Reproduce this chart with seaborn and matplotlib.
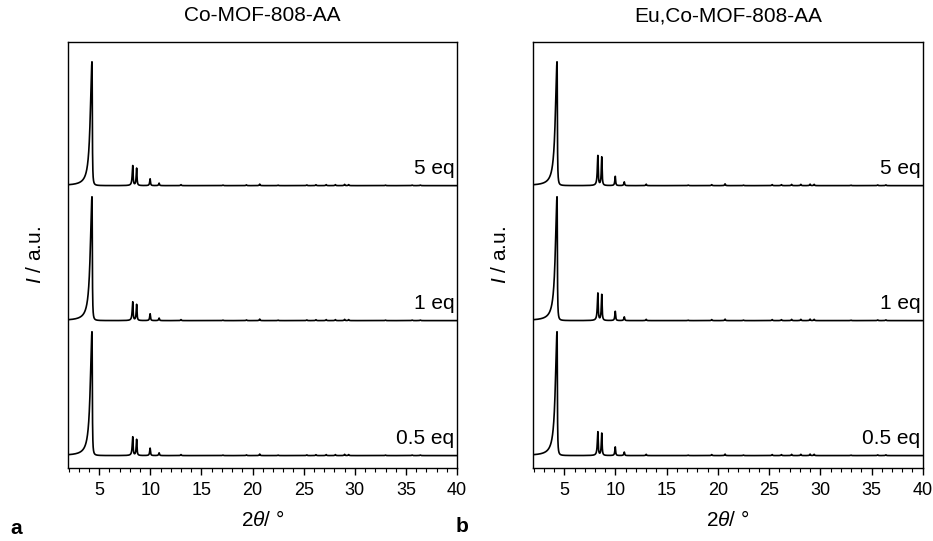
import numpy as np
import pandas as pd
import matplotlib
matplotlib.use("Agg")
import matplotlib.pyplot as plt
import seaborn as sns
from matplotlib.ticker import MultipleLocator

# ---------------- data ----------------
panel_titles = ["Co-MOF-808-AA", "Eu,Co-MOF-808-AA"]
panel_letters = ["a", "b"]
sample_labels = ["0.5 eq", "1 eq", "5 eq"]          # bottom -> top
stack_offsets = [0.0, 1.09, 2.18]

# peak positions (2theta, deg) shared by both frameworks
peak_pos = [4.30, 8.28, 8.66, 9.98, 10.86, 13.0, 17.1, 19.4, 20.7, 22.5,
            25.3, 26.2, 27.2, 28.1, 29.0, 29.4, 33.0, 35.6, 36.4]
# left / right half widths (deg)
peak_wl = [0.20, 0.06, 0.05, 0.05, 0.05, 0.05, 0.05, 0.05, 0.05, 0.05,
           0.05, 0.05, 0.05, 0.05, 0.05, 0.05, 0.05, 0.05, 0.05]
peak_wr = [0.03, 0.04, 0.04, 0.04, 0.04, 0.04, 0.04, 0.04, 0.04, 0.04,
           0.04, 0.04, 0.04, 0.04, 0.04, 0.04, 0.04, 0.04, 0.04]

# relative peak heights, Co-MOF-808-AA
co_05 = [1.0, 0.15, 0.13, 0.060, 0.022, 0.008, 0.004, 0.006, 0.012, 0.004,
         0.006, 0.007, 0.008, 0.008, 0.010, 0.008, 0.004, 0.004, 0.004]
co_1 = [1.0, 0.15, 0.13, 0.055, 0.020, 0.008, 0.004, 0.006, 0.012, 0.004,
        0.006, 0.007, 0.008, 0.008, 0.010, 0.008, 0.004, 0.004, 0.004]
co_5 = [1.0, 0.16, 0.14, 0.055, 0.020, 0.008, 0.004, 0.006, 0.012, 0.004,
        0.006, 0.007, 0.008, 0.008, 0.010, 0.008, 0.004, 0.004, 0.004]
# relative peak heights, Eu,Co-MOF-808-AA
euco_05 = [1.0, 0.19, 0.18, 0.070, 0.028, 0.010, 0.004, 0.008, 0.012, 0.004,
           0.008, 0.008, 0.010, 0.010, 0.012, 0.010, 0.004, 0.006, 0.006]
euco_1 = [1.0, 0.22, 0.21, 0.075, 0.030, 0.010, 0.004, 0.008, 0.012, 0.004,
          0.008, 0.008, 0.010, 0.010, 0.012, 0.010, 0.004, 0.006, 0.006]
euco_5 = [1.0, 0.24, 0.23, 0.075, 0.030, 0.012, 0.004, 0.008, 0.014, 0.004,
          0.008, 0.008, 0.010, 0.010, 0.012, 0.010, 0.004, 0.006, 0.006]
heights = [[co_05, co_1, co_5], [euco_05, euco_1, euco_5]]

x_ticks = [5, 10, 15, 20, 25, 30, 35, 40]
x_range = (1.95, 40)

# ---------------- style ----------------
sns.set_theme(style="ticks")
plt.rcParams["font.family"] = ["Liberation Sans", "DejaVu Sans"]
plt.rcParams["mathtext.fontset"] = "custom"
plt.rcParams["mathtext.rm"] = "Liberation Sans"
plt.rcParams["mathtext.it"] = "Liberation Sans:italic"
for key in ["text.color", "axes.labelcolor", "xtick.color", "ytick.color",
            "xtick.labelcolor", "axes.edgecolor"]:
    plt.rcParams[key] = "black"

two_theta = np.linspace(2.0, 40.0, 7601)


def profile(hts):
    y = np.zeros_like(two_theta)
    for p, h, wl, wr in zip(peak_pos, hts, peak_wl, peak_wr):
        w = np.where(two_theta < p, wl, wr)
        y += h / (1.0 + ((two_theta - p) / w) ** 2)
    return y


fig = plt.figure(figsize=(9.33, 5.41), dpi=100)
ax_rects = [[0.0729, 0.135, 0.417, 0.7874], [0.5713, 0.135, 0.4177, 0.7874]]
fs = 15

for k in range(2):
    ax = fig.add_axes(ax_rects[k])
    frames = []
    for j, lab in enumerate(sample_labels):
        frames.append(pd.DataFrame({
            "two_theta": two_theta,
            "intensity": profile(heights[k][j]) + stack_offsets[j],
            "sample": lab,
        }))
    df = pd.concat(frames, ignore_index=True)
    sns.lineplot(data=df, x="two_theta", y="intensity", hue="sample",
                 palette=["black"] * 3, estimator=None, legend=False,
                 linewidth=1.2, ax=ax)
    for j, lab in enumerate(sample_labels):
        ax.text(39.75, stack_offsets[j] + 0.06, lab, ha="right", va="bottom",
                fontsize=fs)
    ax.set_xlim(*x_range)
    ax.set_ylim(-0.1, 3.34)
    ax.set_xticks(x_ticks)
    ax.xaxis.set_minor_locator(MultipleLocator(1))
    ax.set_yticks([])
    ax.tick_params(axis="x", which="major", direction="out", length=5,
                   width=1, labelsize=13, pad=5, color="black")
    ax.tick_params(axis="x", which="minor", direction="out", length=3,
                   width=0.8, color="black")
    for s in ax.spines.values():
        s.set_visible(True)
        s.set_color("black")
        s.set_linewidth(1.0)
    ax.set_xlabel(r"2$\theta$/ °", fontsize=fs, labelpad=8)
    ax.set_ylabel(r"$I$ / a.u.", fontsize=fs)
    ax.yaxis.set_label_coords(-0.06, 0.5)
    ax.set_title(panel_titles[k], fontsize=fs, pad=15)

fig.text(16 / 933, 1 - 528 / 541, panel_letters[0], fontsize=15,
         fontweight="bold", ha="center", va="center")
fig.text(462 / 933, 1 - 526 / 541, panel_letters[1], fontsize=15,
         fontweight="bold", ha="center", va="center")

fig.savefig("out.png", dpi=100)
